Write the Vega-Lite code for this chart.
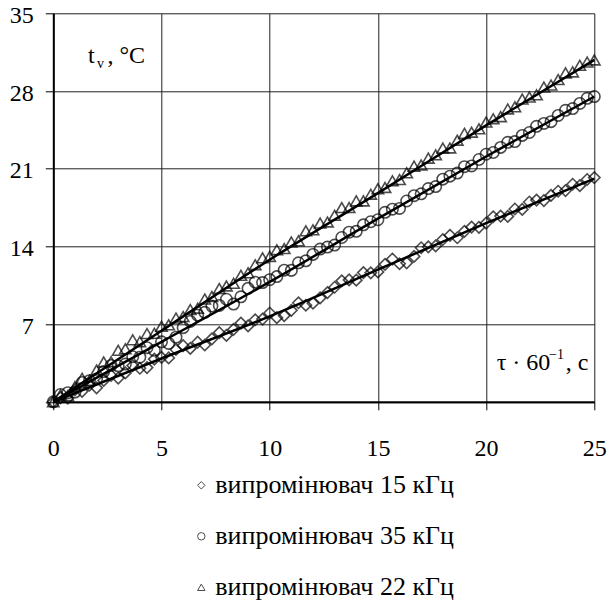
{
  "$schema": "https://vega.github.io/schema/vega-lite/v6.json",
  "width": 541,
  "height": 388.5,
  "autosize": {"type": "none"},
  "padding": {"left": 53.3, "top": 13.3, "right": 15.7, "bottom": 201.2},
  "background": "white",
  "config": {"view": {"stroke": null}, "font": "Liberation Serif"},
  "datasets": {
    "pts": [
      {"x":0,"d15":0,"d35":0,"d22":0},
      {"x":0.33,"d15":0.36,"d35":0.66,"d22":0.63},
      {"x":0.67,"d15":0.32,"d35":0.82,"d22":0.55},
      {"x":1,"d15":1.08,"d35":0.88,"d22":1.38},
      {"x":1.33,"d15":0.94,"d35":1.74,"d22":2.11},
      {"x":1.67,"d15":1.5,"d35":1.9,"d22":1.93},
      {"x":2,"d15":1.26,"d35":2.06,"d22":2.86},
      {"x":2.33,"d15":1.92,"d35":2.72,"d22":3.59},
      {"x":2.67,"d15":2.38,"d35":3.28,"d22":3.61},
      {"x":3,"d15":2.14,"d35":3.24,"d22":4.64},
      {"x":3.33,"d15":2.6,"d35":3.4,"d22":4.77},
      {"x":3.67,"d15":3.26,"d35":4.06,"d22":5.59},
      {"x":4,"d15":3.02,"d35":4.02,"d22":5.42},
      {"x":4.33,"d15":3.08,"d35":4.88,"d22":6.15},
      {"x":4.67,"d15":3.84,"d35":4.64,"d22":6.17},
      {"x":5,"d15":4.0,"d35":5.4,"d22":6.8},
      {"x":5.33,"d15":3.95,"d35":5.26,"d22":6.93},
      {"x":5.67,"d15":4.71,"d35":5.82,"d22":7.55},
      {"x":6,"d15":5.06,"d35":6.68,"d22":7.68},
      {"x":6.33,"d15":4.81,"d35":7.24,"d22":8.31},
      {"x":6.67,"d15":5.37,"d35":7.8,"d22":8.43},
      {"x":7,"d15":5.12,"d35":8.06,"d22":9.26},
      {"x":7.33,"d15":5.67,"d35":8.62,"d22":9.49},
      {"x":7.67,"d15":6.23,"d35":8.68,"d22":10.21},
      {"x":8,"d15":5.98,"d35":9.24,"d22":10.44},
      {"x":8.33,"d15":6.53,"d35":8.8,"d22":10.67},
      {"x":8.67,"d15":7.09,"d35":9.46,"d22":11.39},
      {"x":9,"d15":6.84,"d35":10.22,"d22":11.62},
      {"x":9.33,"d15":7.39,"d35":10.78,"d22":12.35},
      {"x":9.67,"d15":7.45,"d35":10.74,"d22":12.97},
      {"x":10,"d15":8.0,"d35":11.0,"d22":13.1},
      {"x":10.33,"d15":7.58,"d35":11.28,"d22":13.7},
      {"x":10.67,"d15":7.76,"d35":11.86,"d22":13.8},
      {"x":11,"d15":8.24,"d35":11.84,"d22":14.4},
      {"x":11.33,"d15":8.92,"d35":12.52,"d22":14.5},
      {"x":11.67,"d15":8.7,"d35":12.7,"d22":15.4},
      {"x":12,"d15":8.88,"d35":13.28,"d22":15.5},
      {"x":12.33,"d15":9.36,"d35":13.76,"d22":16.1},
      {"x":12.67,"d15":9.84,"d35":13.94,"d22":16.2},
      {"x":13,"d15":10.32,"d35":14.12,"d22":16.8},
      {"x":13.33,"d15":10.9,"d35":14.8,"d22":17.5},
      {"x":13.67,"d15":10.98,"d35":15.28,"d22":17.5},
      {"x":14,"d15":10.96,"d35":15.36,"d22":18.1},
      {"x":14.33,"d15":11.64,"d35":15.94,"d22":18.1},
      {"x":14.67,"d15":11.62,"d35":16.22,"d22":18.7},
      {"x":15,"d15":11.7,"d35":16.4,"d22":19.2},
      {"x":15.33,"d15":12.38,"d35":17.07,"d22":19.31},
      {"x":15.67,"d15":12.86,"d35":17.35,"d22":19.91},
      {"x":16,"d15":12.44,"d35":17.42,"d22":20.02},
      {"x":16.33,"d15":12.52,"d35":18.09,"d22":20.63},
      {"x":16.67,"d15":13.1,"d35":18.57,"d22":21.23},
      {"x":17,"d15":13.88,"d35":18.74,"d22":21.34},
      {"x":17.33,"d15":13.96,"d35":19.21,"d22":21.95},
      {"x":17.67,"d15":14.04,"d35":19.39,"d22":22.25},
      {"x":18,"d15":14.62,"d35":20.06,"d22":22.86},
      {"x":18.33,"d15":15.0,"d35":20.33,"d22":22.87},
      {"x":18.67,"d15":14.78,"d35":20.61,"d22":23.57},
      {"x":19,"d15":15.36,"d35":21.18,"d22":24.18},
      {"x":19.33,"d15":15.74,"d35":21.25,"d22":24.29},
      {"x":19.67,"d15":15.72,"d35":21.83,"d22":24.59},
      {"x":20,"d15":16.1,"d35":22.3,"d22":25.2},
      {"x":20.33,"d15":16.67,"d35":22.46,"d22":25.49},
      {"x":20.67,"d15":16.73,"d35":22.92,"d22":25.69},
      {"x":21,"d15":16.7,"d35":23.38,"d22":26.38},
      {"x":21.33,"d15":17.37,"d35":23.44,"d22":26.57},
      {"x":21.67,"d15":17.33,"d35":24.0,"d22":27.27},
      {"x":22,"d15":18.0,"d35":24.26,"d22":27.46},
      {"x":22.33,"d15":18.17,"d35":24.82,"d22":27.65},
      {"x":22.67,"d15":18.13,"d35":25.08,"d22":28.35},
      {"x":23,"d15":18.6,"d35":25.24,"d22":28.54},
      {"x":23.33,"d15":18.97,"d35":25.8,"d22":29.03},
      {"x":23.67,"d15":19.03,"d35":26.26,"d22":29.63},
      {"x":24,"d15":19.6,"d35":26.42,"d22":29.72},
      {"x":24.33,"d15":19.47,"d35":26.88,"d22":30.31},
      {"x":24.67,"d15":20.03,"d35":27.34,"d22":30.61},
      {"x":25,"d15":20.2,"d35":27.5,"d22":30.8}
    ],
    "fit": [
      {"s":"d15","x":0,"y":0},{"s":"d15","x":5,"y":3.9},{"s":"d15","x":10,"y":7.7},{"s":"d15","x":15,"y":11.9},{"s":"d15","x":20,"y":16.1},{"s":"d15","x":25,"y":20.1},
      {"s":"d35","x":0,"y":0},{"s":"d35","x":5,"y":5.4},{"s":"d35","x":10,"y":10.8},{"s":"d35","x":15,"y":16.5},{"s":"d35","x":20,"y":22.1},{"s":"d35","x":25,"y":27.5},
      {"s":"d22","x":0,"y":0},{"s":"d22","x":5,"y":6.4},{"s":"d22","x":10,"y":12.8},{"s":"d22","x":15,"y":18.8},{"s":"d22","x":20,"y":24.9},{"s":"d22","x":25,"y":30.8}
    ],
    "notes": [
      {"x":1.6,"y":30.5,"t":"t"},
      {"x":2.5,"y":30.5,"t":", °C"},
      {"x":20.49,"y":2.86,"t":"τ · 60"},
      {"x":23.68,"y":2.86,"t":", c"}
    ],
    "subs": [
      {"x":2.02,"y":30.07,"t":"v"},
      {"x":22.91,"y":3.9,"t":"−1"}
    ]
  },
  "layer": [
    {
      "data": {"name": "pts"},
      "transform": [{"fold": ["d15", "d35", "d22"], "as": ["series", "y"]}],
      "mark": {"type": "point", "filled": false, "stroke": "black", "strokeWidth": 1.6, "size": 130, "clip": false},
      "encoding": {
        "x": {"field": "x", "type": "quantitative", "scale": {"domain": [0, 25], "nice": false},
          "axis": {"values": [0,5,10,15,20,25], "title": null, "grid": true, "gridColor": "#222", "gridWidth": 1,
            "domainColor": "black", "domainWidth": 2, "tickColor": "black", "tickSize": 8, "tickWidth": 1,
            "labelFont": "Liberation Serif", "labelFontSize": 24, "labelColor": "black", "labelPadding": 27,
            "labelFlush": false, "labelOverlap": false, "labelAngle": 0}},
        "y": {"field": "y", "type": "quantitative", "scale": {"domain": [0, 35], "nice": false},
          "axis": {"values": [0,7,14,21,28,35], "title": null, "grid": true, "gridColor": "#222", "gridWidth": 1,
            "labelExpr": "datum.value == 0 ? '' : datum.label",
            "domainColor": "black", "domainWidth": 2, "tickColor": "black", "tickSize": 8, "tickWidth": 1,
            "labelFont": "Liberation Serif", "labelFontSize": 24, "labelColor": "black", "labelPadding": 12,
            "labelOffset": 2, "labelFlush": false, "labelOverlap": false}},
        "shape": {"field": "series", "type": "nominal",
          "scale": {"domain": ["d15", "d35", "d22"], "range": ["diamond", "circle", "triangle-up"]},
          "legend": {"orient": "none", "legendX": 135, "legendY": 459, "title": null, "direction": "vertical",
            "labelExpr": "datum.value == 'd15' ? 'випромінювач 15 кГц' : datum.value == 'd35' ? 'випромінювач 35 кГц' : 'випромінювач 22 кГц'",
            "labelFont": "Liberation Serif", "labelFontSize": 26, "labelColor": "black", "labelLimit": 0,
            "symbolSize": 55, "symbolStrokeColor": "black", "symbolFillColor": "white", "symbolStrokeWidth": 1,
            "rowPadding": 25, "labelOffset": 1, "padding": 0}}
      }
    },
    {
      "data": {"name": "fit"},
      "mark": {"type": "line", "color": "black", "strokeWidth": 2.5, "interpolate": "monotone"},
      "encoding": {
        "x": {"field": "x", "type": "quantitative"},
        "y": {"field": "y", "type": "quantitative"},
        "detail": {"field": "s"}
      }
    },
    {
      "data": {"name": "notes"},
      "mark": {"type": "text", "align": "left", "baseline": "alphabetic", "font": "Liberation Serif", "fontSize": 24, "color": "black"},
      "encoding": {
        "x": {"field": "x", "type": "quantitative"},
        "y": {"field": "y", "type": "quantitative"},
        "text": {"field": "t"}
      }
    },
    {
      "data": {"name": "subs"},
      "mark": {"type": "text", "align": "left", "baseline": "alphabetic", "font": "Liberation Serif", "fontSize": 14, "color": "black"},
      "encoding": {
        "x": {"field": "x", "type": "quantitative"},
        "y": {"field": "y", "type": "quantitative"},
        "text": {"field": "t"}
      }
    }
  ]
}
